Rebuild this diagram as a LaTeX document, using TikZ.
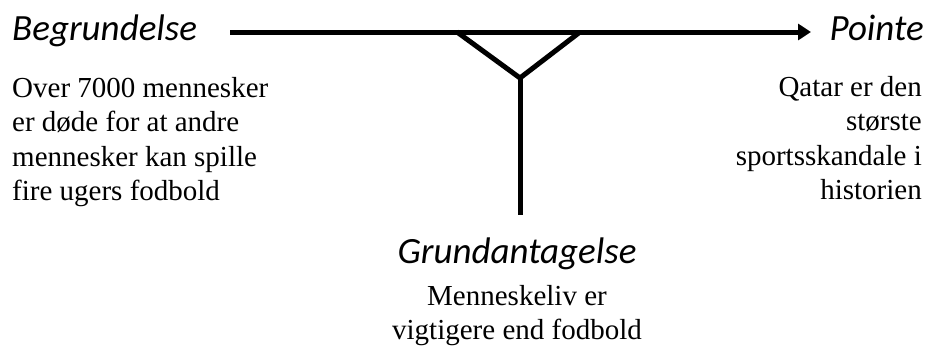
\documentclass[tikz,border=0pt]{standalone}
\usepackage{fontspec}
\setmainfont{Liberation Serif}
\newfontfamily\headfont{Carlito}
\usetikzlibrary{arrows.meta}

\begin{document}
\begin{tikzpicture}[x=1pt, y=-1pt,
	head/.style = {font=\headfont\itshape\fontsize{37}{44}\selectfont, inner sep=0pt},
	body/.style = {font=\fontsize{29}{34.5}\selectfont, inner sep=0pt},
	bar/.style = {line width=5pt}]
	\useasboundingbox (0,0) rectangle (935,351);
	\node[head, anchor=base west] (begr) at (12,40) {Begrundelse};
	\node[head, anchor=base east] (pointe) at (924,40) {Pointe};
	\node[head, anchor=base] (grund) at (517,263) {Grundantagelse};
	\node[body, anchor=north west, align=left] (begrtxt) at (12,77)
		{Over 7000 mennesker\\er døde for at andre\\mennesker kan spille\\fire ugers fodbold};
	\node[body, anchor=north east, align=right] (pointetxt) at (922,76)
		{Qatar er den\\største\\sportsskandale i\\historien};
	\node[body, anchor=north, align=center] (grundtxt) at (517,285)
		{Menneskeliv er\\vigtigere end fodbold};
	\coordinate (start) at (230,32);
	\coordinate (tip) at (811,32);
	\coordinate (yl) at (457,32);
	\coordinate (yr) at (580,32);
	\coordinate (yc) at (520,78);
	\coordinate (foot) at (520,215);
	\draw[bar, -{Triangle[length=13pt,width=16pt]}] (start) -- (tip);
	\draw[bar] (yl) -- (yc) -- (yr);
	\draw[bar] (yc) -- (foot);
\end{tikzpicture}
\end{document}
